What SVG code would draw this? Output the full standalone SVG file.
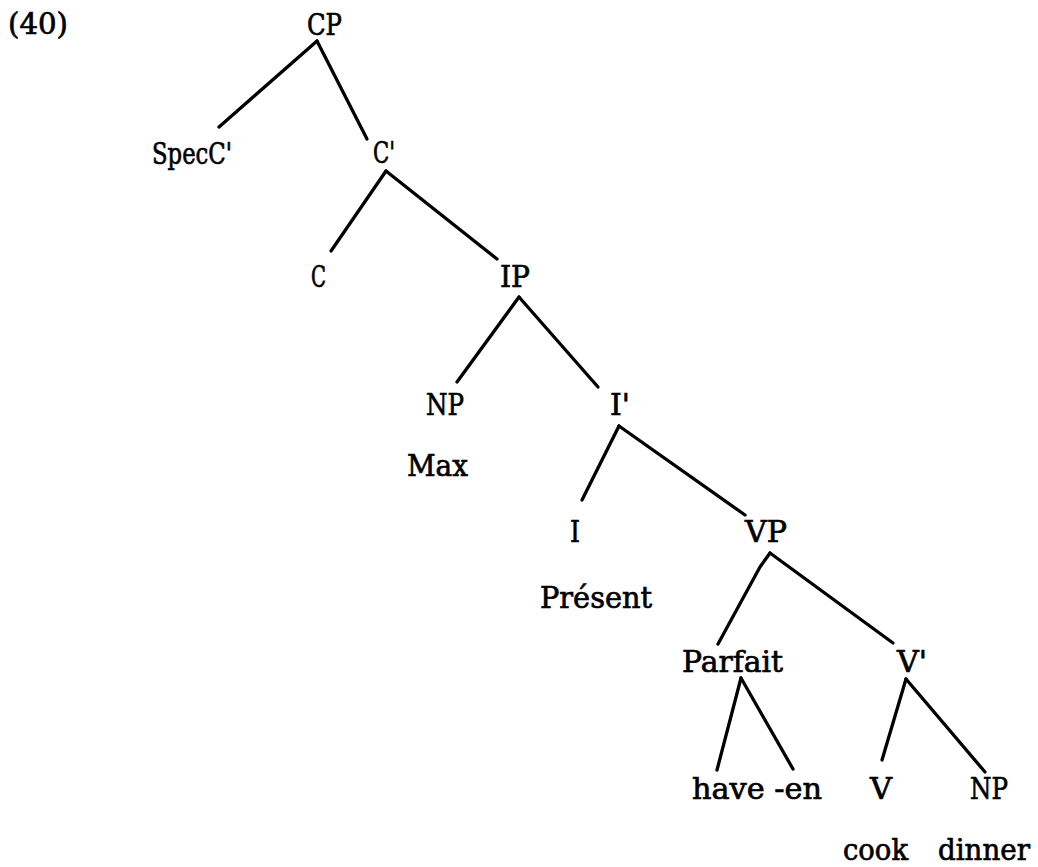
<svg xmlns="http://www.w3.org/2000/svg" width="1038" height="867" viewBox="0 0 1038 867">
<style>
text{font-family:"DejaVu Serif","Liberation Serif",serif;font-size:30px;fill:#000;stroke:#000;stroke-width:0.7}
.e{stroke:#000;stroke-width:3.3;fill:none;stroke-linecap:round;stroke-linejoin:round}
</style>
<rect width="1038" height="867" fill="#fff"/>
<g id="connectors">
<path class="e" d="M317,41 L219,127"/>
<path class="e" d="M317,41 L367,139"/>
<path class="e" d="M386,171 L331,251"/>
<path class="e" d="M386,171 L497,259"/>
<path class="e" d="M519,297 L457,382"/>
<path class="e" d="M519,297 L598,387"/>
<path class="e" d="M619,426 L582,500"/>
<path class="e" d="M619,426 L745,515"/>
<path class="e" d="M770,553 L760,567 L718,644"/>
<path class="e" d="M770,553 L893,643"/>
<path class="e" d="M741,678 L717,770"/>
<path class="e" d="M741,678 L793,769"/>
<path class="e" d="M906,679 L882,760"/>
<path class="e" d="M906,679 L985,772"/>
</g>
<g id="label-40"><text x="8" y="34" textLength="60" lengthAdjust="spacingAndGlyphs">(40)</text></g>
<g id="n-CP"><text x="307" y="35" textLength="35" lengthAdjust="spacingAndGlyphs">CP</text></g>
<g id="n-SpecC"><text x="152" y="164" textLength="80" lengthAdjust="spacingAndGlyphs">SpecC'</text></g>
<g id="n-Cbar"><text x="373" y="163" textLength="22" lengthAdjust="spacingAndGlyphs">C'</text></g>
<g id="n-C"><text x="311" y="287" textLength="15" lengthAdjust="spacingAndGlyphs">C</text></g>
<g id="n-IP"><text x="500" y="287" textLength="30" lengthAdjust="spacingAndGlyphs">IP</text></g>
<g id="n-NP1"><text x="426" y="415" textLength="38" lengthAdjust="spacingAndGlyphs">NP</text></g>
<g id="n-Max"><text x="407" y="476" textLength="61" lengthAdjust="spacingAndGlyphs">Max</text></g>
<g id="n-Ibar"><text x="610" y="415" textLength="20" lengthAdjust="spacingAndGlyphs">I'</text></g>
<g id="n-I"><text x="570" y="542" textLength="10" lengthAdjust="spacingAndGlyphs">I</text></g>
<g id="n-Present"><text x="540" y="608" textLength="112" lengthAdjust="spacingAndGlyphs">Présent</text></g>
<g id="n-VP"><text x="745" y="542" textLength="42" lengthAdjust="spacingAndGlyphs">VP</text></g>
<g id="n-Parfait"><text x="682" y="672" textLength="101" lengthAdjust="spacingAndGlyphs">Parfait</text></g>
<g id="n-Vbar"><text x="897" y="672" textLength="30" lengthAdjust="spacingAndGlyphs">V'</text></g>
<g id="n-have-en"><text x="692" y="799" textLength="130" lengthAdjust="spacingAndGlyphs">have -en</text></g>
<g id="n-V"><text x="870" y="799" textLength="22" lengthAdjust="spacingAndGlyphs">V</text></g>
<g id="n-NP2"><text x="970" y="799" textLength="38" lengthAdjust="spacingAndGlyphs">NP</text></g>
<g id="n-cook"><text x="843" y="860" textLength="65" lengthAdjust="spacingAndGlyphs">cook</text></g>
<g id="n-dinner"><text x="938" y="860" textLength="92" lengthAdjust="spacingAndGlyphs">dinner</text></g>
</svg>
